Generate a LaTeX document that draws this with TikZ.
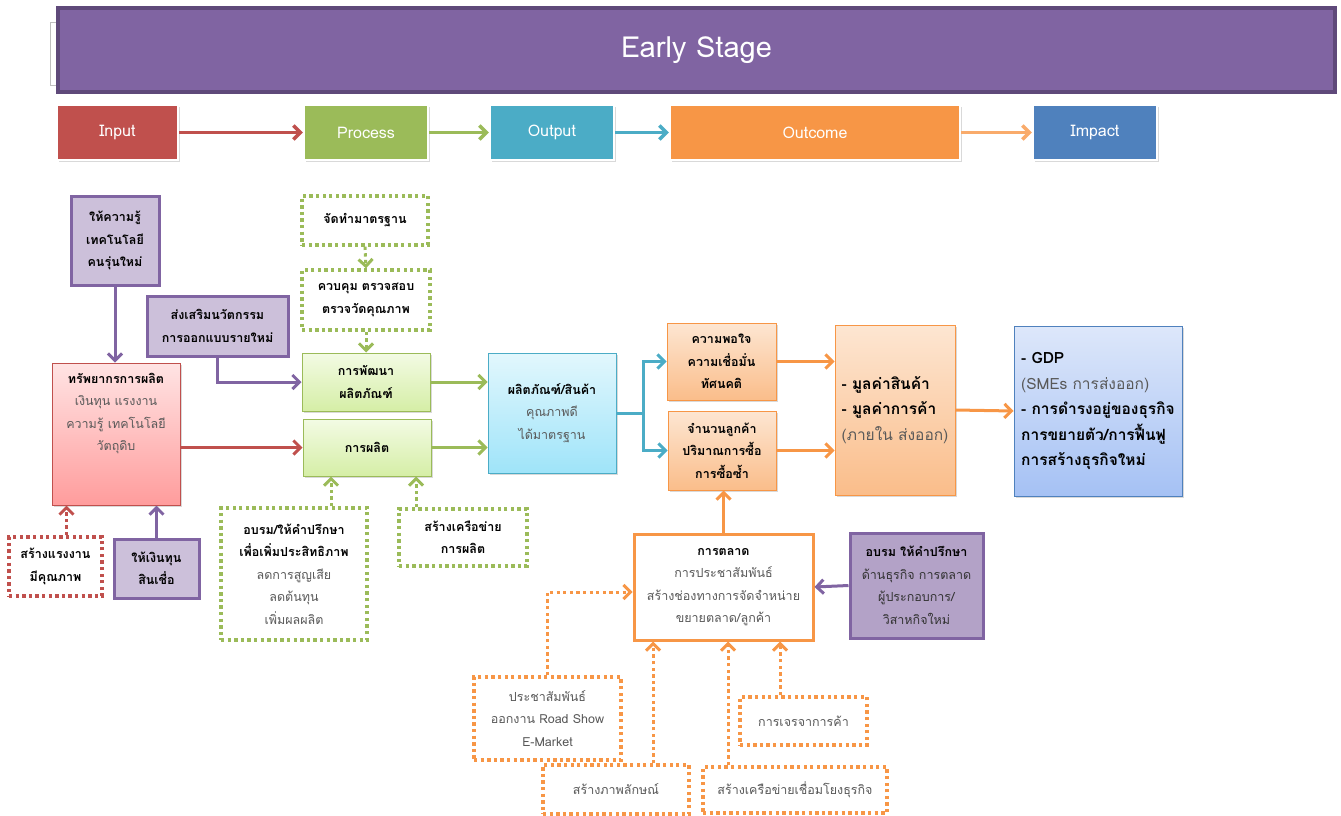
\documentclass[tikz,border=0pt]{standalone}
\usepackage{fontspec}
\setmainfont[Script=Thai]{Loma}
\usetikzlibrary{positioning,arrows.meta,shadows,calc}

\definecolor{bannerfill}{HTML}{8064A2}
\definecolor{bannerline}{HTML}{5F497A}
\definecolor{inred}{HTML}{C0504D}
\definecolor{procgreen}{HTML}{9BBB59}
\definecolor{outteal}{HTML}{4BACC6}
\definecolor{outcorange}{HTML}{F79646}
\definecolor{impblue}{HTML}{4F81BD}
\definecolor{lilac}{HTML}{CCC0DA}
\definecolor{lilacdark}{HTML}{B3A2C7}
\definecolor{greytext}{HTML}{595959}
\definecolor{redtop}{HTML}{FFE4E4}
\definecolor{redbot}{HTML}{FF9C9C}
\definecolor{greentop}{HTML}{F3FBE4}
\definecolor{greenbot}{HTML}{D5EEA6}
\definecolor{cyantop}{HTML}{E2F7FD}
\definecolor{cyanbot}{HTML}{9FE4F9}
\definecolor{orangetop}{HTML}{FDE6D2}
\definecolor{orangebot}{HTML}{FABD8A}
\definecolor{bluetop}{HTML}{DDE7FA}
\definecolor{bluebot}{HTML}{A5C1F4}

\newcommand{\bodyfont}{\fontsize{12.5}{22.5}\selectfont}
\newcommand{\bigfont}{\fontsize{15.5}{25.5}\selectfont}
\newcommand{\bhead}[1]{\textcolor{black}{\bfseries #1}}

\begin{document}
\begin{tikzpicture}[x=1pt,y=-1pt,font=\bodyfont,
  dshadow/.style={drop shadow={shadow xshift=2pt,shadow yshift=-2pt,opacity=.3}},
  stage/.style={draw=white,line width=2.5pt,text=white,minimum height=55pt,
    font=\fontsize{16}{18}\selectfont,dshadow},
  lilacbox/.style={draw=bannerfill,line width=3pt,fill=lilac,align=center,
    font=\bodyfont\bfseries,dshadow},
  dotbox/.style={line width=3.3pt,dash pattern=on 3.3pt off 3.3pt,fill=white,align=center},
  greenbox/.style={draw=procgreen,line width=1pt,top color=greentop,
    bottom color=greenbot,align=center,font=\bodyfont\bfseries,dshadow},
  orangebox/.style={draw=outcorange,line width=1pt,top color=orangetop,
    bottom color=orangebot,align=center,font=\bodyfont\bfseries,dshadow},
  conn/.style={line width=3pt,-{Straight Barb[length=7pt,width=14pt]}},
  dotconn/.style={conn,dash pattern=on 3.3pt off 3.3pt}]
\useasboundingbox (0,0) rectangle (1341,816);

% ---- banner ----
\node[draw=black!25,fill=white,minimum width=1280pt,minimum height=63pt] (bannerbk) at (690,53.5) {};
\node[draw=bannerline,line width=4pt,fill=bannerfill,text=white,minimum width=1277pt,
  minimum height=84pt,font=\fontsize{29}{32}\selectfont] (banner) at (696.5,50) {Early Stage};

% ---- stages ----
\node[stage,fill=inred,minimum width=121pt] (input) at (117.5,132.5) {Input};
\node[stage,fill=procgreen,minimum width=124pt] (process) at (366,132.5) {Process};
\node[stage,fill=outteal,minimum width=124pt] (output) at (552,132.5) {Output};
\node[stage,fill=outcorange,minimum width=290pt] (outcome) at (815,132.5) {Outcome};
\node[stage,fill=impblue,minimum width=124pt] (impact) at (1095,132.5) {Impact};
\draw[conn,line width=3.5pt,inred] (input) -- (process);
\draw[conn,line width=3.5pt,procgreen] (process) -- (output);
\draw[conn,line width=3.5pt,outteal] (output) -- (outcome);
\draw[conn,line width=3.5pt,outcorange!80] (outcome) -- (impact);

% ---- input side ----
\node[lilacbox,minimum width=88pt,minimum height=89pt] (know) at (115,240.5)
  {ให้ความรู้\\เทคโนโลยี\\คนรุ่นใหม่};
\node[lilacbox,minimum width=141pt,minimum height=60pt] (inno) at (217.5,326)
  {ส่งเสริมนวัตกรรม\\การออกแบบรายใหม่};
\node[draw=inred,line width=1pt,top color=redtop,bottom color=redbot,
  minimum width=128pt,minimum height=142pt,dshadow,
  label={[align=center,text=greytext,anchor=north,yshift=-7pt]north:\bhead{ทรัพยากรการผลิต}\\เงินทุน แรงงาน\\ความรู้ เทคโนโลยี\\วัตถุดิบ}]
  (res) at (116,434) {};
\node[dotbox,draw=inred,font=\bodyfont\bfseries,minimum width=93pt,minimum height=59pt] (skill)
  at (55.5,566.5) {สร้างแรงงาน\\มีคุณภาพ};
\node[lilacbox,minimum width=85pt,minimum height=59pt] (fund) at (156.5,568.5)
  {ให้เงินทุน\\สินเชื่อ};

\draw[conn,bannerfill] (know.south) -- (know.south |- res.north);
\draw[dotconn,inred] ([xshift=11pt]skill.north) -- ([xshift=11pt]skill.north |- res.south);
\draw[conn,bannerfill] (fund.north) -- (fund.north |- res.south);

% ---- process side ----
\node[dotbox,draw=procgreen,font=\bodyfont\bfseries,minimum width=126pt,minimum height=49pt] (std)
  at (365,220.5) {จัดทำมาตรฐาน};
\node[dotbox,draw=procgreen,font=\bodyfont\bfseries,minimum width=128pt,minimum height=60pt] (qc)
  at (366,300) {ควบคุม ตรวจสอบ\\ตรวจวัดคุณภาพ};
\node[greenbox,minimum width=128pt,minimum height=58pt] (dev) at (366,382)
  {การพัฒนา\\ผลิตภัณฑ์};
\node[greenbox,minimum width=128pt,minimum height=57pt] (prod) at (367,447.5) {การผลิต};
\node[dotbox,draw=procgreen,text=greytext,minimum width=146pt,minimum height=132pt] (train)
  at (294,574) {\bhead{อบรม/ให้คำปรึกษา}\\\bhead{เพื่อเพิ่มประสิทธิภาพ}\\ลดการสูญเสีย\\ลดต้นทุน\\เพิ่มผลผลิต};
\node[dotbox,draw=procgreen,font=\bodyfont\bfseries,minimum width=128pt,minimum height=57pt] (net)
  at (463,537.5) {สร้างเครือข่าย\\การผลิต};

\draw[conn,bannerfill] (inno.south) |- (dev.west);
\draw[conn,inred] (res.east |- prod.west) -- (prod.west);
\draw[dotconn,procgreen] (std.south) -- (qc.north);
\draw[dotconn,procgreen] (qc.south) -- (dev.north);
\draw[dotconn,procgreen] ([xshift=37pt]train.north) -- ([xshift=37pt]train.north |- prod.south);
\draw[dotconn,procgreen] ([xshift=-47pt]net.north) -- ([xshift=-47pt]net.north |- prod.south);

% ---- output ----
\node[draw=outteal,line width=1pt,top color=cyantop,bottom color=cyanbot,text=greytext,
  align=center,minimum width=128pt,minimum height=120pt,dshadow] (good) at (552,413)
  {\bhead{ผลิตภัณฑ์/สินค้า}\\คุณภาพดี\\ได้มาตรฐาน};
\draw[conn,procgreen] (dev.east) -- (dev.east -| good.west);
\draw[conn,procgreen] (prod.east) -- (prod.east -| good.west);

% ---- outcome ----
\node[orangebox,minimum width=109pt,minimum height=77pt] (sat) at (721.5,361.5)
  {ความพอใจ\\ความเชื่อมั่น\\ทัศนคติ};
\node[orangebox,minimum width=108pt,minimum height=79pt] (cust) at (722,450.5)
  {จำนวนลูกค้า\\ปริมาณการซื้อ\\การซื้อซ้ำ};
\node[orangebox,font=\bigfont,align=left,text=greytext,minimum width=120pt,minimum height=170pt]
  (val) at (895,410) {\bhead{- มูลค่าสินค้า}\\\bhead{- มูลค่าการค้า}\\(ภายใน ส่งออก)};
\coordinate (split) at ($(good.east)+(27,0)$);
\draw[line width=3pt,outteal] (good.east) -- (split);
\draw[conn,outteal] (split) |- (sat.west);
\draw[conn,outteal] (split) |- (cust.west);
\draw[conn,outcorange] (sat.east) -- (sat.east -| val.west);
\draw[conn,outcorange] (cust.east) -- (cust.east -| val.west);

% ---- marketing ----
\node[draw=outcorange,line width=3pt,fill=white,text=greytext,align=center,
  minimum width=179pt,minimum height=106pt] (mkt) at (723.5,587)
  {\bhead{การตลาด}\\การประชาสัมพันธ์\\สร้างช่องทางการจัดจำหน่าย\\ขยายตลาด/ลูกค้า};
\node[draw=bannerfill,line width=3pt,fill=lilacdark,text=black!80,align=center,dshadow,
  minimum width=133pt,minimum height=105pt] (cons) at (916.5,585.5)
  {\bhead{อบรม ให้คำปรึกษา}\\ด้านธุรกิจ การตลาด\\ผู้ประกอบการ/\\วิสาหกิจใหม่};
\node[dotbox,draw=outcorange,text=greytext,minimum width=147pt,minimum height=83pt] (pr)
  at (547.5,718.5) {ประชาสัมพันธ์\\ออกงาน Road Show\\E-Market};
\node[dotbox,draw=outcorange,text=greytext,minimum width=146pt,minimum height=49pt] (img)
  at (616,789.5) {สร้างภาพลักษณ์};
\node[dotbox,draw=outcorange,text=greytext,minimum width=184pt,minimum height=46pt] (link)
  at (795,790) {สร้างเครือข่ายเชื่อมโยงธุรกิจ};
\node[dotbox,draw=outcorange,text=greytext,minimum width=127pt,minimum height=48pt] (neg)
  at (803.5,721) {การเจรจาการค้า};

\draw[conn,outcorange] (mkt.north) -- (mkt.north |- cust.south);
\draw[conn,bannerfill] (cons.west) -- (mkt.east);
\draw[dotconn,outcorange] (pr.north) |- ([yshift=-5pt]mkt.west);
\draw[dotconn,outcorange] ([xshift=37pt]img.north) -- ([xshift=37pt]img.north |- mkt.south);
\draw[dotconn,outcorange] ([xshift=-67pt]link.north) -- ([xshift=-67pt]link.north |- mkt.south);
\draw[dotconn,outcorange] ([xshift=-23.5pt]neg.north) -- ([xshift=-23.5pt]neg.north |- mkt.south);

% ---- impact ----
\node[draw=impblue,line width=1pt,top color=bluetop,bottom color=bluebot,font=\bigfont,
  align=left,text=greytext,minimum width=168pt,minimum height=170pt,dshadow] (imp) at (1098,411)
  {\bhead{- GDP}\\(SMEs การส่งออก)\\\bhead{- การดำรงอยู่ของธุรกิจ}\\\bhead{การขยายตัว/การฟื้นฟู}\\\bhead{การสร้างธุรกิจใหม่}};
\draw[conn,outcorange] (val.east) -- (imp.west);

\end{tikzpicture}
\end{document}
